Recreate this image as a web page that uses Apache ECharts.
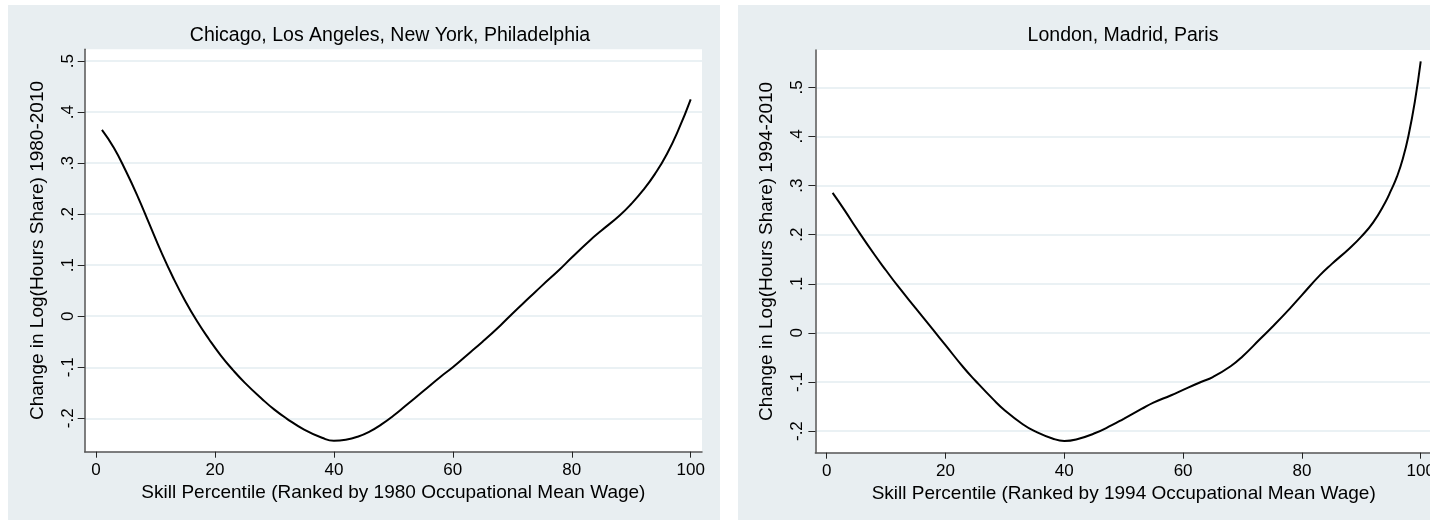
<!DOCTYPE html>
<html><head><meta charset="utf-8">
<script src="https://cdn.jsdelivr.net/npm/echarts@6/dist/echarts.min.js"></script>
<style>html,body{margin:0;padding:0;background:#fff;}#c{width:1430px;height:520px;}</style>
</head><body><div id="c"></div>
<script>
// ---- data ----
const usTitle = 'Chicago, Los Angeles, New York, Philadelphia';
const euTitle = 'London, Madrid, Paris';
const usYName = 'Change in Log(Hours Share) 1980-2010';
const euYName = 'Change in Log(Hours Share) 1994-2010';
const usXName = 'Skill Percentile (Ranked by 1980 Occupational Mean Wage)';
const euXName = 'Skill Percentile (Ranked by 1994 Occupational Mean Wage)';
const xTicks = [0, 20, 40, 60, 80, 100];
const yTicks = [-0.2, -0.1, 0, 0.1, 0.2, 0.3, 0.4, 0.5];

const usPercentile = [1,3,5,7,9,11,13,15,17,19,21,23,25,28,30,32,35,38,40,42,44,46,48,50,52,55,58,60,63,65,68,70,73,75,78,80,83,85,88,90,92,94,96,98,100];
const usChange = [0.365,0.33,0.285,0.235,0.18,0.125,0.075,0.03,-0.01,-0.045,-0.077,-0.105,-0.13,-0.163,-0.183,-0.2,-0.222,-0.238,-0.244,-0.242,-0.236,-0.226,-0.212,-0.195,-0.176,-0.147,-0.118,-0.1,-0.07,-0.05,-0.018,0.005,0.038,0.06,0.092,0.115,0.148,0.168,0.197,0.22,0.247,0.279,0.318,0.367,0.425];

const euPercentile = [1,3,5,8,10,12,15,18,20,23,25,28,30,33,35,38,40,42,45,48,50,53,55,58,60,63,65,68,70,73,75,78,80,83,85,88,90,92,94,95,96,97,98,99,100];
const euChange = [0.285,0.25,0.213,0.16,0.127,0.095,0.05,0.005,-0.025,-0.07,-0.097,-0.135,-0.158,-0.186,-0.2,-0.215,-0.22,-0.217,-0.205,-0.188,-0.175,-0.155,-0.142,-0.127,-0.116,-0.1,-0.09,-0.068,-0.048,-0.012,0.012,0.05,0.077,0.117,0.14,0.172,0.196,0.225,0.265,0.29,0.318,0.355,0.405,0.47,0.553];

// ---- styling ----
const FONT = '"Liberation Sans", Arial, Helvetica, sans-serif';
const PANEL_BG = '#e8eef1';
const GRID_LINE = '#e3ecf0';
const fmtY = v => { const r = Math.round(v * 10) / 10; if (r === 0) return '0'; return (r < 0 ? '-' : '') + Math.abs(r).toFixed(1).replace(/^0/, ''); };

function xAxis(gridIndex, name) {
  return {
    type: 'value', gridIndex, min: -1.9, max: 101.9,
    name, nameLocation: 'middle', nameGap: 29,
    nameTextStyle: { fontFamily: FONT, fontSize: 19, color: '#000' },
    axisLine: { show: true, onZero: false, lineStyle: { color: '#555', width: 1.5 } },
    axisTick: { show: true, length: 6, lineStyle: { color: '#222', width: 1 }, customValues: xTicks },
    axisLabel: { fontFamily: FONT, fontSize: 17, color: '#000', margin: 10, customValues: xTicks, hideOverlap: false },
    splitLine: { show: false }
  };
}
function yAxis(gridIndex, name, min, max, nameGap, labelMargin) {
  return {
    type: 'value', gridIndex, min, max,
    name, nameLocation: 'middle', nameGap, nameRotate: 90,
    nameTextStyle: { fontFamily: FONT, fontSize: 19, color: '#000' },
    axisLine: { show: true, onZero: false, lineStyle: { color: '#555', width: 1.5 } },
    axisTick: { show: true, length: 7, lineStyle: { color: '#222', width: 1 }, customValues: yTicks },
    axisLabel: { fontFamily: FONT, fontSize: 17, color: '#000', rotate: 90, margin: labelMargin, customValues: yTicks, formatter: fmtY },
    splitLine: { show: true, lineStyle: { color: GRID_LINE, width: 1.5 } }
  };
}

const chart = echarts.init(document.getElementById('c'), null, { renderer: 'canvas' });
chart.setOption({
  backgroundColor: '#ffffff',
  animation: false,
  graphic: [
    { type: 'rect', z: -10, shape: { x: 8, y: 5, width: 712, height: 520 }, style: { fill: PANEL_BG } },
    { type: 'rect', z: -10, shape: { x: 738, y: 5, width: 700, height: 520 }, style: { fill: PANEL_BG } },
    { type: 'text', x: 390, y: 36, style: { text: usTitle, font: '19.5px ' + FONT, fill: '#000', align: 'center', verticalAlign: 'middle', textAlign: 'center', textVerticalAlign: 'middle' } },
    { type: 'text', x: 1123, y: 36, style: { text: euTitle, font: '19.5px ' + FONT, fill: '#000', align: 'center', verticalAlign: 'middle', textAlign: 'center', textVerticalAlign: 'middle' } }
  ],
  grid: [
    { left: 84.7, top: 49.3, width: 617.3, height: 402.4, show: true, backgroundColor: '#fff', borderWidth: 0, containLabel: false, outerBoundsMode: 'none' },
    { left: 815.4, top: 50, width: 616.6, height: 402.7, show: true, backgroundColor: '#fff', borderWidth: 0, containLabel: false, outerBoundsMode: 'none' }
  ],
  xAxis: [xAxis(0, usXName), xAxis(1, euXName)],
  yAxis: [yAxis(0, usYName, -0.2654, 0.523, 37, 8), yAxis(1, euYName, -0.244, 0.576, 39, 10)],
  series: [
    { type: 'line', xAxisIndex: 0, yAxisIndex: 0, smooth: 0.5, showSymbol: false, lineStyle: { color: '#000', width: 2 }, data: usPercentile.map((p, i) => [p, usChange[i]]) },
    { type: 'line', xAxisIndex: 1, yAxisIndex: 1, smooth: 0.5, showSymbol: false, lineStyle: { color: '#000', width: 2 }, data: euPercentile.map((p, i) => [p, euChange[i]]) }
  ]
});
</script></body></html>
